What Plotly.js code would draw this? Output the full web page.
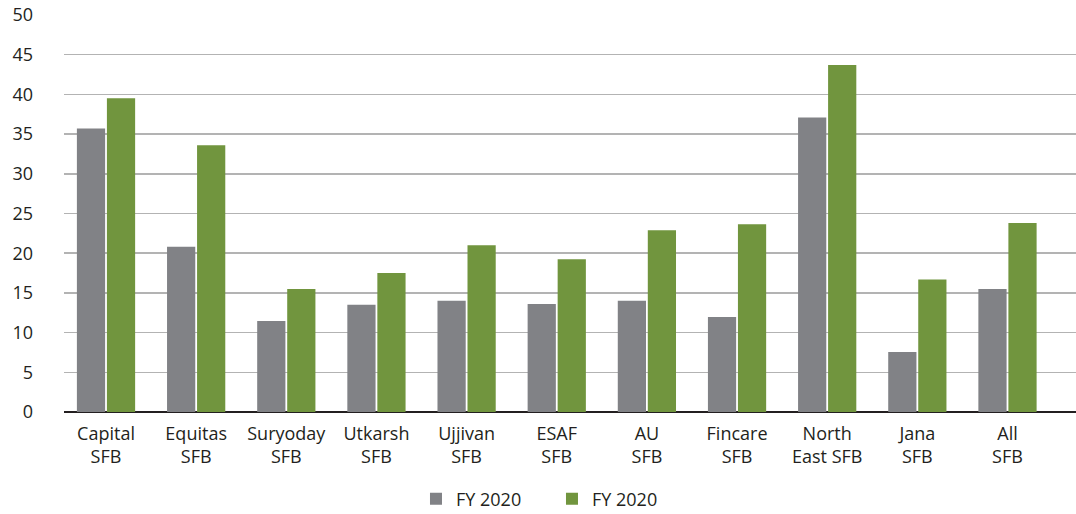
<!DOCTYPE html>
<html><head><meta charset="utf-8">
<script src="https://cdn.plot.ly/plotly-3.0.1.min.js"></script>
<style>html,body{margin:0;padding:0;background:#fff;}#chart{width:1076px;height:514px;}</style>
</head><body><div id="chart"></div>
<script>
const categories = ["Capital<br>SFB","Equitas<br>SFB","Suryoday<br>SFB","Utkarsh<br>SFB","Ujjivan<br>SFB","ESAF<br>SFB","AU<br>SFB","Fincare<br>SFB","North<br>East SFB","Jana<br>SFB","All<br>SFB"];
const seriesNames = ["FY 2020","FY 2020"];
const greySeries = [35.7,20.8,11.45,13.5,14.0,13.6,14.0,11.95,37.1,7.55,15.5];
const greenSeries = [39.5,33.6,15.5,17.5,21.0,19.25,22.9,23.65,43.7,16.7,23.8];
const yTicks = [0,5,10,15,20,25,30,35,40,45,50];

const font = "'Open Sans', 'Noto Sans', sans-serif";
const data = [
  {type:'bar', x:categories, y:greySeries, name:seriesNames[0], marker:{color:'#818286'}, hoverinfo:'y'},
  {type:'bar', x:categories, y:greenSeries, name:seriesNames[1], marker:{color:'#71953e'}, hoverinfo:'y'}
];
const layout = {
  width:1076, height:514,
  margin:{l:64, r:0, t:15, b:102, autoexpand:false},
  paper_bgcolor:'#fff', plot_bgcolor:'#fff',
  font:{family:font, color:'#231f20', size:18},
  barmode:'group', bargap:0.334, bargroupgap:0.06,
  showlegend:true,
  legend:{orientation:'h', x:0.513, xanchor:'center', xref:'container', y:0.029, yanchor:'middle', yref:'container', font:{size:18}, itemwidth:30, entrywidth:91, traceorder:'normal'},
  xaxis:{type:'category', range:[-0.466,10.76], showgrid:false, showline:false, zeroline:false, ticks:'', tickfont:{size:18}, ticklabelstandoff:9, fixedrange:true, automargin:false},
  yaxis:{range:[0,50], tickvals:yTicks, ticktext:yTicks.map(String), showgrid:true, gridcolor:'#b3b3b3', gridwidth:1.5, zeroline:true, zerolinecolor:'#231f20', zerolinewidth:2, showline:false, ticks:'', tickfont:{size:18}, ticklabelstandoff:30, fixedrange:true, automargin:false}
};
Plotly.newPlot('chart', data, layout, {displayModeBar:false, staticPlot:true});
</script></body></html>
